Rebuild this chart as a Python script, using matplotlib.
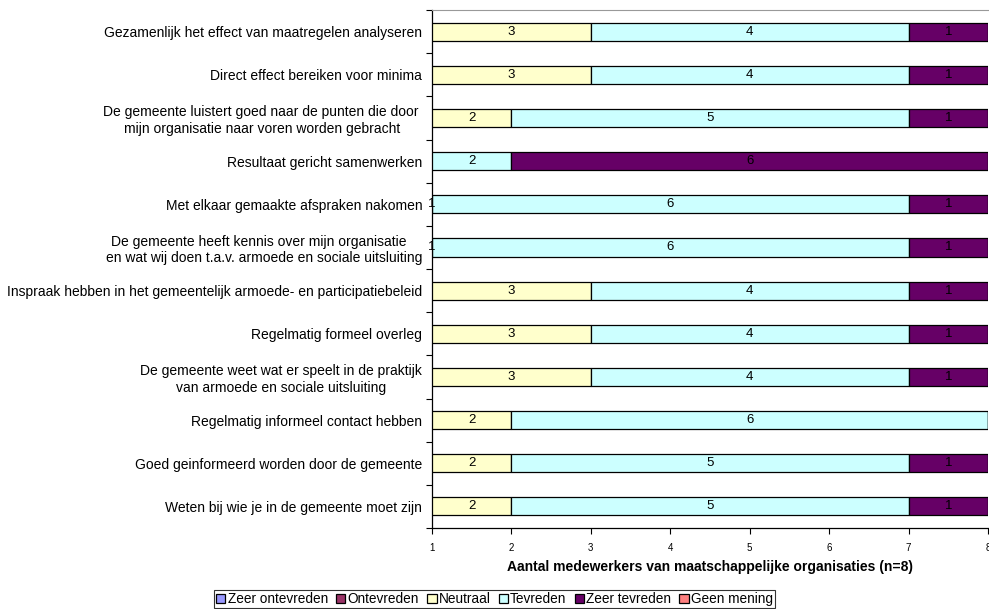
import matplotlib
matplotlib.use("Agg")
import matplotlib.pyplot as plt
import numpy as np

plt.rcParams['font.family'] = ['Liberation Sans', 'DejaVu Sans']

categories = [
    "Gezamenlijk het effect van maatregelen analyseren",
    "Direct effect bereiken voor minima",
    "De gemeente luistert goed naar de punten die door \nmijn organisatie naar voren worden gebracht",
    "Resultaat gericht samenwerken",
    "Met elkaar gemaakte afspraken nakomen",
    "De gemeente heeft kennis over mijn organisatie   \nen wat wij doen t.a.v. armoede en sociale uitsluiting",
    "Inspraak hebben in het gemeentelijk armoede- en participatiebeleid",
    "Regelmatig formeel overleg",
    "De gemeente weet wat er speelt in de praktijk\nvan armoede en sociale uitsluiting",
    "Regelmatig informeel contact hebben",
    "Goed geinformeerd worden door de gemeente",
    "Weten bij wie je in de gemeente moet zijn",
]
series_names = ["Zeer ontevreden", "Ontevreden", "Neutraal", "Tevreden", "Zeer tevreden", "Geen mening"]
zeer_ontevreden = [0, 0, 0, 0, 0, 0, 0, 0, 0, 0, 0, 0]
ontevreden      = [0, 0, 0, 0, 0, 0, 0, 0, 0, 0, 0, 0]
neutraal        = [3, 3, 2, 0, 1, 1, 3, 3, 3, 2, 2, 2]
tevreden        = [4, 4, 5, 2, 6, 6, 4, 4, 4, 6, 5, 5]
zeer_tevreden   = [1, 1, 1, 6, 1, 1, 1, 1, 1, 0, 1, 1]
geen_mening     = [0, 0, 0, 0, 0, 0, 0, 0, 0, 0, 0, 0]
colors = ["#9999FF", "#993366", "#FFFFCC", "#CCFFFF", "#660066", "#FF8080"]
x_ticks = [1, 2, 3, 4, 5, 6, 7, 8]
xlabel = "Aantal medewerkers van maatschappelijke organisaties (n=8)"

series = [zeer_ontevreden, ontevreden, neutraal, tevreden, zeer_tevreden, geen_mening]

fig = plt.figure(figsize=(9.89, 6.09), dpi=100)
ax = fig.add_axes([0.4368, 0.133, 0.5622, 0.8505])

n = len(categories)
y = np.arange(n)[::-1]
xmin, xmax = 1, 8
left = np.zeros(n)
handles = []
for name, vals, c in zip(series_names, series, colors):
    vals = np.array(vals, dtype=float)
    h = ax.barh(y, vals, left=left, height=0.42, color=c, edgecolor="#000000",
                linewidth=0.9, label=name)
    handles.append(h)
    for i in range(n):
        if vals[i] > 0:
            a = max(left[i], xmin)
            b = min(left[i] + vals[i], xmax)
            xc = (a + b) / 2 if b >= a else xmin
            ax.text(xc, y[i], f"{int(vals[i])}", ha="center", va="center",
                    fontsize=9.5, color="black", clip_on=False)
    left += vals

ax.set_xlim(xmin, xmax)
ax.set_ylim(-0.5, n - 0.5)
ax.set_xticks(x_ticks)
ax.set_xticklabels([str(t) for t in x_ticks], fontsize=7)
ax.tick_params(axis="x", direction="out", length=4, width=0.8, pad=7)

ax.set_yticks(y)
ax.set_yticklabels(categories, fontsize=10, multialignment="center")
ax.set_yticks(np.arange(n + 1) - 0.5, minor=True)
ax.tick_params(axis="y", which="major", length=0, pad=7)
ax.tick_params(axis="y", which="minor", direction="out", length=4, width=0.8)

ax.spines["right"].set_visible(False)
ax.spines["top"].set_color("#999999")
ax.spines["top"].set_linewidth(0.8)
ax.spines["left"].set_linewidth(0.9)
ax.spines["bottom"].set_linewidth(0.9)

ax.set_xlabel(xlabel, fontsize=10, fontweight="bold", labelpad=5)

leg = fig.legend(handles=handles, labels=series_names, loc="lower center",
                 bbox_to_anchor=(0.5, 0.0), ncol=6, fontsize=9.8, frameon=True,
                 fancybox=False, edgecolor="black", handlelength=0.7, handleheight=0.7,
                 handletextpad=0.15, columnspacing=0.6, borderpad=0.15, borderaxespad=0.05)
leg.get_frame().set_linewidth(0.8)

fig.savefig("out.png", dpi=100)
